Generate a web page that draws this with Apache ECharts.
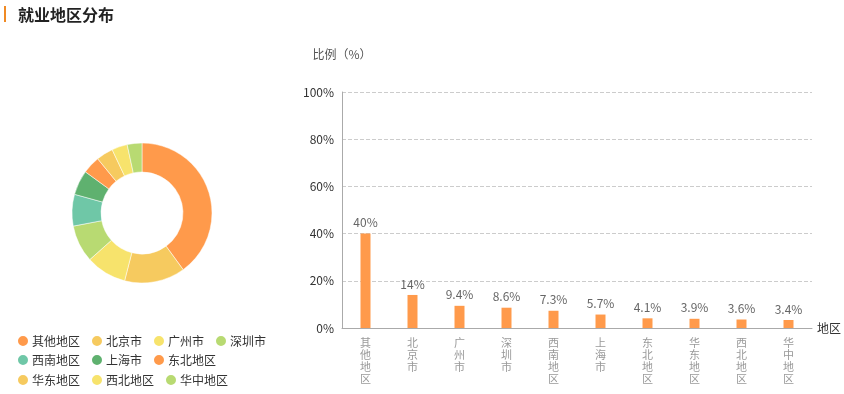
<!DOCTYPE html>
<html>
<head>
<meta charset="utf-8">
<script src="https://cdn.jsdelivr.net/npm/echarts@6/dist/echarts.min.js"></script>
<style>html,body{margin:0;padding:0;background:#fff;}#c{width:844px;height:394px;}</style>
</head>
<body>
<div id="c"></div>
<script>
const categories = ['其他地区','北京市','广州市','深圳市','西南地区','上海市','东北地区','华东地区','西北地区','华中地区'];
const values = [40, 14, 9.4, 8.6, 7.3, 5.7, 4.1, 3.9, 3.6, 3.4];
const yTicks = [0, 20, 40, 60, 80, 100];
const legendRows = [[0, 4], [4, 7], [7, 10]];
const palette = ['#FF9A4B','#F6CA5F','#F7E36C','#B8DA72','#6FC7A7','#5FB16F'];

const chart = echarts.init(document.getElementById('c'));
const legendTops = [334, 353, 373];
chart.setOption({
  animation: false,
  color: palette,
  textStyle: {fontFamily: '"Noto Sans CJK SC", sans-serif'},
  title: {
    text: '就业地区分布', left: 13, top: 2,
    textStyle: {fontSize: 16, fontWeight: 'bold', color: '#222'}
  },
  graphic: [{type: 'rect', left: 4, top: 6, shape: {width: 2, height: 16}, style: {fill: '#F08A24'}}],
  legend: legendRows.map((r, i) => ({
    left: 16, top: legendTops[i], padding: 0, itemWidth: 12, itemHeight: 12, itemGap: 10,
    icon: 'circle', orient: 'horizontal',
    textStyle: {fontSize: 12, color: '#333', padding: [0,0,0,-2]},
    data: categories.slice(r[0], r[1])
  })),
  grid: {left: 342, right: 32, top: 92, bottom: 66},
  xAxis: {
    type: 'category', data: categories,
    name: '地区', nameGap: 5, nameTextStyle: {fontSize: 12, color: '#333'},
    axisLine: {lineStyle: {color: '#aaa'}},
    axisTick: {show: false},
    axisLabel: {
      interval: 0, color: '#999', fontSize: 11, lineHeight: 12, margin: 9,
      formatter: v => v.split('').join('\n')
    }
  },
  yAxis: {
    type: 'value', min: 0, max: 100, interval: 20,
    name: '比例（%）', nameGap: 32, nameTextStyle: {fontSize: 12, color: '#555'},
    axisLine: {show: true, lineStyle: {color: '#aaa'}},
    axisTick: {show: false},
    axisLabel: {color: '#333', fontSize: 12, formatter: v => yTicks.includes(v) ? v + '%' : ''},
    splitLine: {lineStyle: {type: 'dashed', color: '#ccc'}}
  },
  series: [
    {
      type: 'pie', center: [142, 213], radius: [41, 70], startAngle: 90,
      label: {show: false}, labelLine: {show: false},
      itemStyle: {borderColor: '#fff', borderWidth: 0.5},
      data: categories.map((c, i) => ({name: c, value: values[i]}))
    },
    {
      type: 'bar', data: values, barWidth: 10,
      itemStyle: {color: '#FF9A4B'},
      label: {show: true, position: 'top', color: '#666', fontSize: 12, formatter: p => p.value + '%'}
    }
  ]
});
</script>
</body>
</html>
